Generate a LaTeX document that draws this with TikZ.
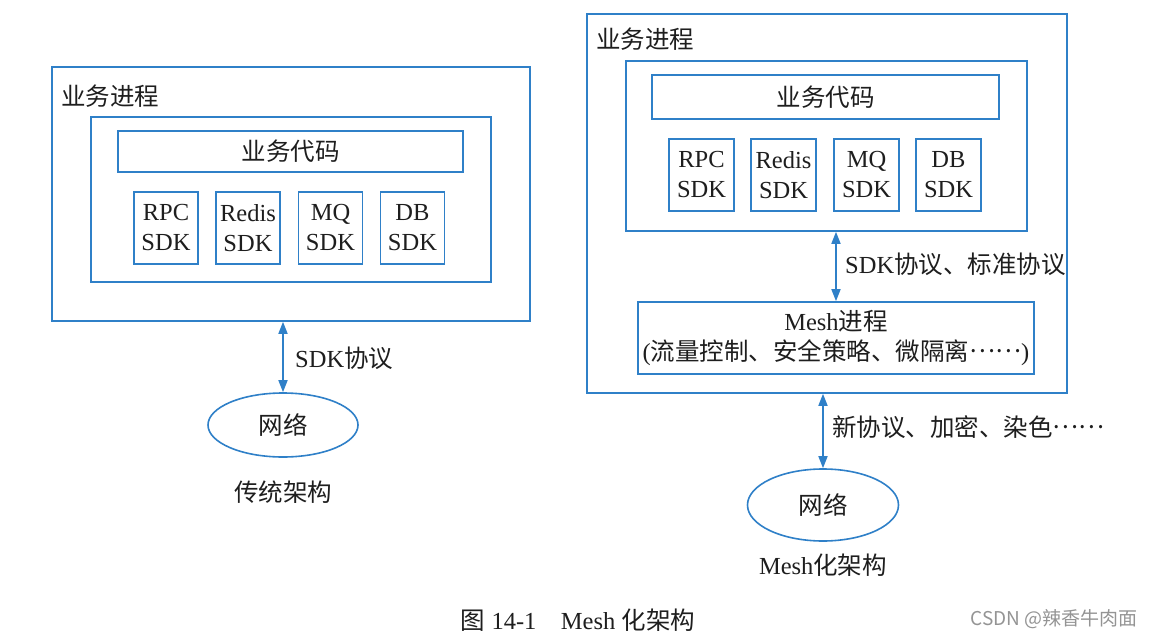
\documentclass[tikz,border=0pt]{standalone}
\usepackage{fontspec}
\setmainfont{Liberation Serif}
\newfontfamily\cjkfont{Noto Sans CJK SC}
\newcommand\zh[1]{{\cjkfont #1}}
\newcommand\dotsline{\raisebox{0.32em}{\cjkfont ……}}
\usetikzlibrary{shapes.geometric,arrows.meta}
\definecolor{lineblue}{HTML}{2F80C8}
\definecolor{txt}{HTML}{1E1E1E}
\tikzset{
  every node/.style={text=txt, font=\fontsize{24.5}{30}\selectfont},
  box/.style={draw=lineblue, line width=1.6pt, rectangle, inner sep=0pt},
  sdkbox/.style={box, minimum width=65pt, minimum height=72pt, align=center},
  net/.style={draw=lineblue, line width=1.6pt, ellipse, inner sep=0pt},
  link/.style={draw=lineblue, line width=1.6pt, {Triangle[length=12pt,width=9pt]}-{Triangle[length=12pt,width=9pt]}, fill=lineblue},
  lbl/.style={inner sep=0pt},
}
\begin{document}
\begin{tikzpicture}[x=1pt,y=-1pt]
\path[use as bounding box, fill=white] (0,0) rectangle (1154,637);

% ---------------- left: traditional ----------------
\node[box, minimum width=478pt, minimum height=254pt] (lout) at (291,194) {};
\node[lbl] (ltitle) at (110,96) {\zh{业务进程}};
\node[box, minimum width=400pt, minimum height=165pt] (lin) at (291,199.5) {};
\node[box, minimum width=345pt, minimum height=41pt] (lcode) at (290.5,151.5) {\zh{业务代码}};
\node[sdkbox, minimum width=64pt] (lrpc) at (166,228) {RPC\\SDK};
\node[sdkbox, minimum width=64pt] (lredis) at (248,228) {Redis\\SDK};
\node[sdkbox, minimum width=64pt] (lmq) at (330.5,228) {MQ\\SDK};
\node[sdkbox, minimum width=64pt] (ldb) at (412.5,228) {DB\\SDK};
\node[net, minimum width=150pt, minimum height=64pt] (lnet) at (283,425) {\zh{网络}};
\draw[link] (lnet.north |- lout.south) -- (lnet.north);
\node[lbl, anchor=west] (lproto) at (295,358) {SDK\zh{协议}};
\node[lbl] (lcap) at (283,492) {\zh{传统架构}};

% ---------------- right: mesh ----------------
\node[box, minimum width=480pt, minimum height=379pt] (rout) at (827,203.5) {};
\node[lbl] (rtitle) at (645,39) {\zh{业务进程}};
\node[box, minimum width=401pt, minimum height=170pt] (rin) at (826.5,146) {};
\node[box, minimum width=347pt, minimum height=44pt] (rcode) at (825.5,97) {\zh{业务代码}};
\node[sdkbox] (rrpc) at (701.5,175) {RPC\\SDK};
\node[sdkbox] (rredis) at (783.5,175) {Redis\\SDK};
\node[sdkbox] (rmq) at (866.5,175) {MQ\\SDK};
\node[sdkbox] (rdb) at (948.5,175) {DB\\SDK};
\node[box, minimum width=396pt, minimum height=72pt, align=center] (rmesh) at (836,338)
  {Mesh\zh{进程}\\(\zh{流量控制、安全策略、微隔离}\dotsline)};
\draw[link] (rmesh.north |- rin.south) -- (rmesh.north);
\node[lbl, anchor=west] (rproto) at (845,264) {SDK\zh{协议、标准协议}};
\node[net, minimum width=151pt, minimum height=72pt] (rnet) at (823,505) {\zh{网络}};
\draw[link] (rnet.north |- rout.south) -- (rnet.north);
\node[lbl, anchor=west] (rproto2) at (832,427) {\zh{新协议、加密、染色}\dotsline};
\node[lbl] (rcap) at (823,565) {Mesh\zh{化架构}};

% ---------------- caption ----------------
\node[lbl] (caption) at (578,620) {\zh{图}\ 14-1\quad Mesh\ \zh{化架构}};
\node[lbl, anchor=east, text=black!42, font=\fontsize{19}{22}\selectfont] (csdn) at (1138,619) {\cjkfont CSDN @辣香牛肉面};
\end{tikzpicture}
\end{document}
